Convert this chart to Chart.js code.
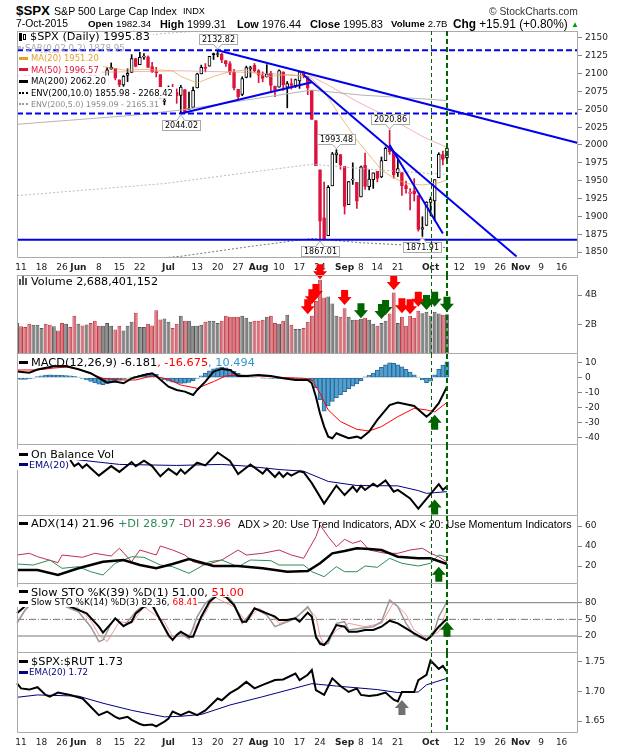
<!DOCTYPE html>
<html>
<head>
<meta charset="utf-8">
<title>$SPX S&amp;P 500 Large Cap Index</title>
<script src="https://cdn.jsdelivr.net/npm/chart.js@4.4.1/dist/chart.umd.min.js"></script>
<style>
  html, body { margin: 0; padding: 0; background: #fff; }
  #page { position: relative; width: 620px; height: 750px; overflow: hidden; font-family: 'DejaVu Sans', sans-serif; color: #000; }
  .pane { position: absolute; left: 0; z-index: 1; }
  .pane canvas { display: block; }
  .hd { position: absolute; height: 14px; display: flex; align-items: center; white-space: nowrap; font-family: 'Liberation Sans', Arial, sans-serif; z-index: 5; }
  .hd b { font-weight: bold; margin-right: 3px; }
  .row { position: absolute; left: 17px; display: flex; align-items: center; white-space: nowrap; z-index: 5; }
  .bg { background: #fff; }
  .ico { display: inline-block; flex: none; width: 9px; height: 3px; margin: 0 3px 0 2px; }
  .dots { height: 0; border-top: 2px dotted #000; }
  .t { display: inline-block; }
</style>
</head>
<body>
<div id="page">
  <!-- header -->
  <div class="hd" style="left:16px;top:3px"><span data-w="34" style="font-size:14px;font-weight:bold">$SPX</span></div>
  <div class="hd" style="left:54px;top:4px"><span data-w="123" style="font-size:11px">S&amp;P 500 Large Cap Index</span></div>
  <div class="hd" style="left:183px;top:4px"><span data-w="22" style="font-size:10px">INDX</span></div>
  <div class="hd" style="left:489px;top:4px"><span data-w="89" style="font-size:12px;color:#333">© StockCharts.com</span></div>
  <div class="hd" style="left:16px;top:16.5px"><span data-w="52" style="font-size:11px">7-Oct-2015</span></div>
  <div class="hd" style="left:88px;top:16.5px"><span data-w="63" style="font-size:11px"><b>Open</b>1982.34</span></div>
  <div class="hd" style="left:160px;top:16.5px"><span data-w="66" style="font-size:11px"><b>High</b>1999.31</span></div>
  <div class="hd" style="left:237px;top:16.5px"><span data-w="64" style="font-size:11px"><b>Low</b>1976.44</span></div>
  <div class="hd" style="left:310px;top:16.5px"><span data-w="73" style="font-size:11px"><b>Close</b>1995.83</span></div>
  <div class="hd" style="left:391px;top:16.5px"><span data-w="56" style="font-size:11px"><b>Volume</b>2.7B</span></div>
  <div class="hd" style="left:453px;top:16.5px"><span data-w="115" style="font-size:11px"><b>Chg</b>+15.91 (+0.80%)</span></div>
  <div class="hd" style="left:571px;top:17px"><span style="font-size:8px;color:#00a000">▲</span></div>

  <!-- price panel legend (white box is painted on the canvas under the trendlines) -->
  <div id="priceLegend">
    <div class="row" style="top:31px;height:11.5px"><span class="ico" style="width:3px;height:8px;background:#000;margin-right:1px"></span><span class="ico" style="width:3px;height:6px;border:1px solid #000;box-sizing:border-box;margin:0 4px 0 0"></span><span class="t" data-w="120" style="font-size:11px">$SPX (Daily) 1995.83</span></div>
    <div class="row" style="top:42.5px;height:10px"><span class="ico" style="width:3px;height:3px;background:#bbb;margin:0 1px 0 1px"></span><span class="ico" style="width:2px;height:2px;background:#bbb;margin:0 1px 0 0"></span><span class="t" data-w="100" style="font-size:9px;color:#aaa">SAR(0.02,0.2) 1878.95</span></div>
    <div class="row" style="top:52.5px;height:11.5px"><span class="ico" style="background:#e0a030"></span><span class="t" data-w="68" style="font-size:9px;color:#e0a030">MA(20) 1951.20</span></div>
    <div class="row" style="top:64px;height:11.5px"><span class="ico" style="background:#dc143c"></span><span class="t" data-w="68" style="font-size:9px;color:#dc143c">MA(50) 1996.57</span></div>
    <div class="row" style="top:75.5px;height:11.5px"><span class="ico" style="background:#000"></span><span class="t" data-w="75" style="font-size:9px">MA(200) 2062.20</span></div>
    <div class="row" style="top:87px;height:11.5px"><span class="ico dots"></span><span class="t" data-w="142" style="font-size:9px">ENV(200,10.0) 1855.98 - 2268.42</span></div>
    <div class="row" style="top:98.5px;height:11.5px"><span class="ico dots" style="border-color:#999"></span><span class="t" data-w="128" style="font-size:9px;color:#888">ENV(200,5.0) 1959.09 - 2165.31</span></div>
  </div>

  <!-- lower panel legends -->
  <div class="row" style="top:276px;height:11px"><span class="ico" style="width:2px;height:6px;background:#555;margin:0 1px 0 2px;align-self:flex-end;margin-bottom:2px"></span><span class="ico" style="width:2px;height:9px;background:#555;margin:0 1px 0 0;align-self:flex-end;margin-bottom:2px"></span><span class="ico" style="width:2px;height:7px;background:#555;margin:0 4px 0 0;align-self:flex-end;margin-bottom:2px"></span><span class="t" data-w="127" style="font-size:11px">Volume 2,688,401,152</span></div>
  <div class="row" style="top:356.5px;height:11px"><span class="ico" style="background:#000"></span><span class="t" data-w="224" style="font-size:11px">MACD(12,26,9) -6.181<span style="color:#f00">, -16.675</span><span style="color:#3399cc">, 10.494</span></span></div>
  <div class="row bg" style="top:449px;height:10.5px"><span class="ico" style="background:#000"></span><span class="t" data-w="83" style="font-size:10px">On Balance Vol</span></div>
  <div class="row bg" style="top:459.5px;height:10px"><span class="ico" style="background:#000080;margin-right:1px"></span><span class="t" data-w="40" style="font-size:9px;color:#000080">EMA(20)</span></div>
  <div class="row" style="top:518.5px;height:10px"><span class="ico" style="background:#000"></span><span class="t" data-w="200" style="font-size:10px">ADX(14) 21.96 <span style="color:#2e8b57">+DI 28.97</span> <span style="color:#b03050">-DI 23.96</span></span></div>
  <div class="hd" style="left:238px;top:517px"><span data-w="334" style="font-size:11px">ADX &gt; 20: Use Trend Indicators, ADX &lt; 20: Use Momentum Indicators</span></div>
  <div class="row bg" style="top:586.5px;height:10px"><span class="ico" style="background:#000"></span><span class="t" data-w="213" style="font-size:10px">Slow STO %K(39) %D(1) 51.00, <span style="color:#f00">51.00</span></span></div>
  <div class="row bg" style="top:597px;height:10px"><span class="ico" style="background:#000"></span><span class="t" data-w="167" style="font-size:9px">Slow STO %K(14) %D(3) 82.36, <span style="color:#f00">68.41</span></span></div>
  <div class="row" style="top:656px;height:10px"><span class="ico" style="background:#000"></span><span class="t" data-w="92" style="font-size:11px">$SPX:$RUT 1.73</span></div>
  <div class="row" style="top:667px;height:10px"><span class="ico" style="background:#000080;margin-right:1px"></span><span class="t" data-w="59" style="font-size:9px;color:#000080">EMA(20) 1.72</span></div>
</div>

<script>
// Trading days shown, then the empty weekdays the axis runs on to
const days = [
  '5/8','5/11','5/12','5/13','5/14','5/15','5/18','5/19','5/20','5/21','5/22',
  '5/26','5/27','5/28','5/29','6/1','6/2','6/3','6/4','6/5',
  '6/8','6/9','6/10','6/11','6/12','6/15','6/16','6/17','6/18','6/19',
  '6/22','6/23','6/24','6/25','6/26','6/29','6/30','7/1','7/2',
  '7/6','7/7','7/8','7/9','7/10','7/13','7/14','7/15','7/16','7/17',
  '7/20','7/21','7/22','7/23','7/24','7/27','7/28','7/29','7/30','7/31',
  '8/3','8/4','8/5','8/6','8/7','8/10','8/11','8/12','8/13','8/14',
  '8/17','8/18','8/19','8/20','8/21','8/24','8/25','8/26','8/27','8/28',
  '8/31','9/1','9/2','9/3','9/4','9/8','9/9','9/10','9/11',
  '9/14','9/15','9/16','9/17','9/18','9/21','9/22','9/23','9/24','9/25',
  '9/28','9/29','9/30','10/1','10/2','10/5','10/6','10/7',
  '10/8','10/9','10/12','10/13','10/14','10/15','10/16','10/19','10/20','10/21','10/22','10/23',
  '10/26','10/27','10/28','10/29','10/30','11/2','11/3','11/4','11/5','11/6',
  '11/9','11/10','11/11','11/12','11/13','11/16','11/17','11/18','11/19','11/20'
];

// Date axis labels
const tickDays = ['5/11','5/18','5/26','6/1','6/8','6/15','6/22','7/1','7/13','7/20','7/27','8/3','8/10','8/17','8/24','9/1','9/8','9/14','9/21','10/1','10/12','10/19','10/26','11/2','11/9','11/16'];
const tickText = ['11','18','26','Jun','8','15','22','Jul','13','20','27','Aug','10','17','24','Sep','8','14','21','Oct','12','19','26','Nov','9','16'];

// Daily candles
const open = [2092.13,2115.56,2102.87,2099.62,2100.43,2122.07,2121.30,2129.45,2127.79,2125.55,
  2130.36,2125.34,2105.13,2122.27,2120.66,2108.64,2110.41,2110.64,2112.35,2095.09,
  2092.34,2079.07,2081.12,2106.24,2107.43,2091.34,2084.26,2097.40,2101.58,2121.06,
  2112.50,2123.16,2123.65,2109.96,2102.62,2098.63,2061.19,2067.00,2078.03,2073.95,
  2069.52,2077.66,2049.73,2052.74,2080.03,2099.72,2109.21,2110.55,2126.80,2126.85,
  2127.55,2118.21,2114.16,2102.24,2078.19,2070.75,2094.70,2106.78,2111.60,2104.49,
  2097.68,2095.27,2100.75,2082.61,2080.98,2102.66,2081.10,2086.19,2083.15,2089.70,
  2101.99,2095.69,2076.61,2034.08,1965.15,1898.08,1872.75,1942.77,1986.06,1986.73,
  1970.09,1916.52,1950.79,1947.76,1927.30,1971.45,1941.59,1951.45,1963.06,1955.10,
  1978.02,1995.33,1989.66,1960.84,1961.39,1943.24,1932.24,1935.93,1929.18,1881.90,
  1887.14,1919.65,1921.77,1954.33,1986.63,1982.34];
const high = [2117.66,2117.69,2105.06,2110.19,2121.45,2123.89,2131.78,2133.02,2134.72,2131.42,
  2132.15,2125.34,2126.22,2122.27,2120.66,2119.15,2117.59,2121.92,2112.89,2100.99,
  2093.01,2085.62,2108.50,2115.02,2107.43,2091.34,2097.40,2106.79,2126.65,2121.64,
  2129.87,2128.03,2125.10,2116.04,2108.92,2098.63,2074.28,2082.78,2085.06,2078.61,
  2083.74,2077.66,2074.28,2081.31,2100.67,2111.98,2114.14,2124.42,2128.91,2132.82,
  2128.49,2118.51,2116.87,2106.01,2078.19,2095.60,2110.60,2110.48,2114.24,2105.70,
  2102.51,2112.66,2103.32,2082.61,2105.35,2102.66,2089.06,2092.93,2092.45,2102.87,
  2103.47,2096.17,2076.61,2034.08,1965.15,1948.04,1943.09,1989.60,1993.48,1986.73,
  1970.09,1948.91,1975.01,1947.76,1970.42,1988.63,1965.29,1961.05,1963.06,1983.19,
  1997.26,2020.86,1989.66,1979.64,1961.39,1949.52,1938.88,1952.89,1929.18,1899.48,
  1920.53,1927.21,1951.36,1989.17,1991.62,1999.31];
const low = [2092.13,2104.58,2085.57,2096.04,2100.43,2116.81,2120.01,2124.50,2122.59,2120.74,
  2126.06,2099.18,2105.13,2112.86,2104.89,2102.54,2099.14,2110.64,2093.23,2085.67,
  2079.11,2072.14,2081.12,2106.24,2091.33,2072.49,2082.10,2088.86,2101.58,2109.45,
  2112.50,2119.89,2108.58,2101.78,2095.38,2056.64,2056.32,2067.00,2071.02,2058.40,
  2044.02,2044.66,2049.73,2052.74,2080.03,2099.72,2102.49,2110.55,2119.88,2123.66,
  2115.40,2110.00,2098.63,2077.09,2063.52,2069.09,2094.08,2094.97,2102.07,2087.31,
  2088.60,2095.27,2075.53,2067.91,2080.98,2076.49,2052.09,2078.26,2080.61,2079.30,
  2094.14,2070.53,2035.73,1970.89,1867.01,1867.08,1872.75,1942.77,1975.19,1965.98,
  1903.07,1916.52,1944.72,1911.21,1927.30,1937.88,1937.19,1939.19,1948.27,1954.30,
  1977.93,1986.73,1953.45,1955.80,1929.22,1932.57,1908.92,1921.50,1879.21,1871.91,
  1887.14,1900.70,1893.70,1954.33,1971.99,1976.44];
const close = [2116.10,2105.33,2099.12,2098.48,2121.10,2122.73,2129.20,2127.83,2125.85,2130.82,
  2126.06,2104.20,2123.48,2120.79,2107.39,2111.73,2109.60,2114.07,2095.84,2092.83,
  2079.28,2080.15,2105.20,2108.86,2094.11,2084.43,2096.29,2100.44,2121.24,2109.99,
  2122.85,2124.20,2108.58,2102.31,2101.49,2057.64,2063.11,2077.42,2076.78,2068.76,
  2081.34,2046.68,2051.31,2076.62,2099.60,2108.95,2107.40,2124.29,2126.64,2128.28,
  2119.21,2114.15,2102.15,2079.65,2067.64,2093.25,2108.57,2108.63,2103.84,2098.04,
  2093.32,2099.84,2083.56,2077.57,2104.18,2084.07,2086.05,2083.39,2091.54,2102.44,
  2096.92,2079.61,2035.73,1970.89,1893.21,1867.61,1940.51,1987.66,1988.87,1972.18,
  1913.85,1948.86,1951.13,1921.22,1969.41,1942.04,1952.29,1961.05,1953.03,1978.09,
  1995.31,1990.20,1958.03,1966.97,1942.74,1938.76,1932.24,1931.34,1881.77,1884.09,
  1920.03,1923.82,1951.36,1987.05,1979.92,1995.83];

// Overlays: [day, value]
const ma20 = [['6/9',2110],['6/16',2105],['6/24',2106],['7/2',2104],['7/7',2096],['7/13',2087],['7/17',2096],['7/23',2103],['7/29',2105],['8/5',2096],['8/11',2098],['8/18',2097],['8/20',2093],['8/25',2075],['8/31',2040],['9/4',2007],['9/11',1979],['9/15',1965],['9/18',1954],['9/23',1946],['9/29',1944],['10/5',1947],['10/7',1951.2]];
const ma50 = [['6/8',2102],['7/7',2104],['7/28',2102],['8/14',2098],['8/20',2096],['8/26',2084],['9/4',2061],['9/17',2038],['9/29',2012],['10/7',1996.57]];
const ma200 = [['5/8',2029],['6/17',2041],['7/7',2049],['7/29',2063],['8/20',2077],['9/8',2070],['10/1',2064],['10/7',2062.2]];
const env5Up = [['5/8',2131],['6/8',2146],['6/29',2156],['7/14',2160],['7/29',2168],['8/20',2181],['10/7',2165.31]];
const env5Lo = [['5/8',1929],['6/30',1946],['8/20',1973],['9/10',1966],['10/1',1960],['10/7',1959.09]];
const env10Lo = [['5/8',1826],['6/17',1838],['7/7',1844],['7/29',1857],['8/20',1869],['9/8',1863],['10/1',1858],['10/7',1855.98]];

// Drawn trendlines and levels
const trendLines = [
  [['7/20',2132.82],['11/20',2002.8]],
  [['7/7',2044.02],['8/20',2088]],
  [['8/18',2098],['10/30',1843.8]],
  [['9/17',2000],['10/6',1876]]
];
const dashedLevels = [2132.82, 2044.02];
const solidLevels = [1867.01];
// Price callouts: [day, price, side]
const callouts = [['7/20',2132.82,'above'],['7/7',2044.02,'below'],['8/28',1993.48,'above'],['9/17',2020.86,'above'],['8/24',1867.01,'below'],['9/29',1871.91,'below']];
const markerDays = ['10/1','10/7'];

// Volume, billions of shares
const volume = [2.11,1.89,1.84,2.05,1.98,1.98,1.77,2.05,1.98,1.89,
  1.59,2.11,2.05,1.84,2.60,2.05,1.93,2.00,2.11,2.25,
  1.91,1.91,2.11,1.91,1.66,1.91,1.59,1.91,2.18,2.80,
  1.84,1.84,2.05,1.93,2.97,2.34,2.41,2.18,1.77,2.05,
  2.60,2.25,2.25,1.91,1.91,1.98,2.18,2.25,2.25,2.11,
  2.25,2.60,2.53,2.53,2.53,2.60,2.46,2.18,2.25,2.25,
  2.32,2.53,2.60,2.11,2.05,2.25,2.67,1.98,1.70,1.70,
  1.77,2.18,2.60,3.60,5.03,3.84,3.90,3.43,2.60,2.53,
  3.10,2.53,2.32,2.32,2.39,2.46,2.32,2.05,1.91,2.11,
  2.25,2.74,4.18,2.11,2.53,1.91,2.60,2.46,2.94,2.76,
  2.87,2.60,2.87,2.74,2.67,2.69];
const volRedArrows = [['8/19',2.69],['8/20',3.37],['8/21',3.73],['8/24',5.08],['9/1',3.32],['9/18',4.34],['9/22',2.76],['9/24',2.69],['9/28',3.21]];
const volGreenArrows = [['9/8',2.42],['9/15',2.37],['9/16',2.64],['9/30',2.98],['10/2',3.21],['10/7',2.87]];

// MACD(12,26,9)
const macdLine = [['5/8',4.0],['5/13',3.3],['5/15',5.4],['5/21',7.6],['5/27',7.8],['6/1',5.6],['6/4',2.9],['6/10',-3.4],['6/12',-2.7],['6/16',-3.8],['6/18',-0.5],['6/23',1.7],['6/25',2.9],['6/26',1.1],['7/1',-6.1],['7/6',-8.3],['7/8',-9.4],['7/10',-11.7],['7/13',-8.3],['7/15',-2.7],['7/17',4.0],['7/21',5.8],['7/23',5.1],['7/27',1.1],['7/29',1.1],['8/3',1.7],['8/6',1.1],['8/11',-0.5],['8/14',-1.6],['8/19',-1.6],['8/20',-3.8],['8/21',-12.8],['8/24',-24],['8/25',-32.9],['8/26',-39.6],['8/27',-40.7],['8/28',-37.3],['8/31',-38.5],['9/2',-40.7],['9/4',-39.6],['9/8',-40.7],['9/10',-36.2],['9/14',-28.4],['9/17',-18.4],['9/21',-16.8],['9/25',-19],['9/30',-26.2],['10/1',-24],['10/5',-17.2],['10/7',-6.181]];
const macdSignal = [['5/8',5.1],['5/15',5.1],['5/21',6.4],['5/27',7.0],['6/1',5.6],['6/9',-0.5],['6/15',-1.6],['6/19',-1.6],['6/25',1.1],['7/1',-1.1],['7/7',-5],['7/13',-7.2],['7/17',-2.7],['7/22',1.1],['7/27',1.7],['8/3',1.1],['8/10',0.2],['8/18',-0.5],['8/20',-1.6],['8/24',-10.5],['8/26',-21.7],['8/31',-29.5],['9/4',-34.7],['9/10',-35.8],['9/15',-32.9],['9/21',-26.2],['9/25',-20.6],['9/30',-21.7],['10/2',-23],['10/7',-16.675]];
const macdHist = [-1.0,-1.3,-1.2,-0.8,-0.3,
  0.6,1.2,1.6,1.8,1.7,1.6,
  1.5,1.3,1.2,0.8,0.3,
  -0.5,-1.5,-2.6,-3.6,-4.4,-4.8,-4.0,
  -3.0,-2.3,-1.6,-1.0,-0.4,0.2,
  0.9,1.6,2.2,2.8,2.9,2.2,
  -0.2,-1.5,-2.4,-3.0,-3.6,-3.9,-3.7,-3.2,-2.0,-0.6,
  1.2,3.0,4.6,5.8,6.6,6.9,6.6,5.6,4.2,
  2.8,1.6,1.0,0.6,0.2,0.0,
  -0.2,-0.4,-0.5,-0.6,-0.7,-0.8,-0.8,-0.8,-0.7,-0.6,-0.8,-1.2,
  -2.5,-7.0,-15.0,-22.5,-19.0,-16.0,-13.5,-11.5,-9.5,-7.5,-5.8,-4.2,-2.2,
  0.5,1.5,3.0,5.0,6.8,8.5,9.8,9.5,8.6,7.2,5.5,3.6,1.8,0.3,
  -1.6,-3.4,-2.4,1.8,5.6,8.4,10.494];
const macdArrows = [['10/2',-25]];

// On balance volume (billions, relative level) and its EMA(20)
const obv = [['5/28',32.9],['5/29',29.3],['6/1',30.9],['6/2',28.3],['6/3',30.3],['6/8',23.7],['6/11',29.3],['6/15',25.9],['6/18',31.7],['6/19',29.3],['6/23',32.5],['6/25',29.3],['6/29',23.3],['7/1',27.7],['7/6',24.3],['7/7',27.3],['7/8',24.9],['7/13',31.3],['7/15',29.7],['7/20',37.3],['7/23',32.3],['7/27',24.7],['7/30',30.3],['8/4',24.9],['8/5',27.7],['8/7',22.9],['8/10',25.7],['8/11',22.9],['8/12',25.3],['8/13',23.7],['8/17',26.3],['8/18',25.7],['8/20',19.3],['8/25',7.3],['8/28',17.9],['9/1',12.3],['9/3',17.3],['9/4',14.3],['9/8',17.7],['9/9',15.3],['9/11',18.9],['9/14',17.3],['9/16',20.9],['9/18',14.3],['9/21',15.3],['9/24',10.3],['9/28',4.3],['10/5',18.7],['10/6',15.3],['10/7',17.5]];
const obvEma = [['5/28',33.5],['6/15',30.3],['7/6',29.7],['7/21',30.3],['7/29',29.3],['8/10',27.3],['8/18',26.3],['8/26',20.3],['9/4',17.9],['9/21',17.7],['9/28',14.9],['9/30',13.3],['10/2',13.7],['10/7',14.3]];
const obvArrows = [['10/2',9.7]];

// ADX(14), +DI, -DI
const adx = [['5/8',16],['5/15',16],['5/22',11],['6/1',17.7],['6/9',24.3],['6/16',26],['6/22',21],['6/26',17.7],['7/2',22],['7/9',27],['7/17',20],['7/27',20],['8/4',17.7],['8/12',14.3],['8/19',15],['8/24',22.7],['8/27',32.7],['9/1',35],['9/4',37.7],['9/10',37],['9/15',36],['9/21',29.3],['9/28',27.7],['10/1',27.7],['10/7',21.96]];
const plusDI = [['5/8',22],['5/14',21],['5/20',26],['5/26',17.7],['6/1',19.3],['6/4',14.3],['6/9',11],['6/12',22.7],['6/18',29.3],['6/23',28.7],['6/29',21],['7/2',19.3],['7/9',12.7],['7/16',24.3],['7/21',26],['7/27',19.3],['7/30',26],['8/6',25.3],['8/10',21],['8/18',21],['8/20',14.3],['8/25',9.3],['8/28',19.3],['9/1',14.3],['9/4',14.3],['9/9',20],['9/14',18.7],['9/17',27.7],['9/22',22.7],['9/28',20],['10/1',22.7],['10/5',31],['10/7',28.97]];
const minusDI = [['5/8',31],['5/13',32.7],['5/15',29.3],['5/22',23.3],['5/26',31],['6/2',28.7],['6/5',32.7],['6/11',30],['6/15',37.7],['6/18',24.3],['6/22',36],['6/26',31],['6/29',40],['7/2',36],['7/8',31],['7/10',24.3],['7/15',21],['7/21',26],['7/27',36],['7/29',31],['8/4',32.7],['8/10',36],['8/13',31],['8/18',27.7],['8/21',49.3],['8/24',61],['8/26',49.3],['8/28',39.3],['9/1',46.7],['9/3',42.7],['9/8',45.3],['9/10',36],['9/16',32.7],['9/21',32.7],['9/24',36],['9/29',37.7],['10/1',32.7],['10/5',29.3],['10/7',23.96]];
const adxArrows = [['10/5',19.3]];

// Slow stochastics
const sto39 = [['5/8',60.8],['5/12',74],['5/15',86],['5/21',90],['5/28',72.8],['6/3',60.8],['6/8',36.8],['6/9',26],['6/11',42.8],['6/12',51.8],['6/16',38],['6/18',45.8],['6/19',60.8],['6/23',72.8],['6/25',75.8],['6/29',48.8],['7/1',21.8],['7/2',12.8],['7/6',21.8],['7/7',27.8],['7/9',18.8],['7/10',18.8],['7/14',54.8],['7/16',81.8],['7/20',93.8],['7/22',90.8],['7/24',75.8],['7/28',45.8],['7/29',45.8],['7/31',69.8],['8/5',60.8],['8/7',54.8],['8/10',48.8],['8/12',48.8],['8/14',51.8],['8/17',45.8],['8/19',62],['8/20',54.8],['8/21',18.8],['8/24',6],['8/25',3.8],['8/26',12.8],['8/28',39.8],['9/1',36.8],['9/2',27.8],['9/4',27.8],['9/9',30.8],['9/11',30.8],['9/15',36.8],['9/17',47.6],['9/21',42.8],['9/23',33.8],['9/25',24.8],['9/30',12.8],['10/1',18.8],['10/5',36.8],['10/7',51]];
const sto14K = [['5/8',42.8],['5/12',66.8],['5/15',88],['5/21',86],['5/27',72.8],['6/1',63.8],['6/4',36.8],['6/8',9.8],['6/9',12.8],['6/11',42.8],['6/12',51.8],['6/16',36.8],['6/19',63.8],['6/23',75.8],['6/25',80],['6/29',48.8],['7/1',18.8],['7/2',14],['7/6',21.8],['7/7',24.8],['7/9',15],['7/13',54.8],['7/15',78.8],['7/20',97],['7/22',95],['7/24',78.8],['7/28',42.8],['7/31',69.8],['8/5',57.8],['8/7',36.8],['8/12',45.8],['8/14',51.8],['8/19',72.8],['8/20',60.8],['8/21',15.8],['8/25',3.8],['8/26',6.8],['8/28',42.8],['9/1',45.8],['9/2',30.8],['9/8',33.8],['9/11',36.8],['9/15',45.8],['9/17',84.8],['9/21',72.8],['9/23',42.8],['9/25',21.8],['9/30',12.8],['10/2',30.8],['10/5',55],['10/6',68],['10/7',82.36]];
const sto14D = [['5/8',45.8],['5/13',78.8],['5/27',78],['6/1',70],['6/4',48],['6/8',22],['6/10',9.8],['6/15',45.8],['6/18',42.8],['6/23',72.8],['6/30',45.8],['7/2',18.8],['7/9',21.8],['7/15',60.8],['7/17',90.8],['7/24',72.8],['7/29',45.8],['8/3',69.8],['8/6',57.8],['8/10',42.8],['8/13',48.8],['8/19',69.8],['8/21',54.8],['8/24',20],['8/25',3.8],['8/28',30.8],['9/2',42.8],['9/9',36.8],['9/15',42.8],['9/18',80.8],['9/23',58.8],['9/25',30.8],['9/30',15.8],['10/5',27.8],['10/7',68.41]];
const stoLevels = [80, 20];
const stoMid = 50;
const stoArrows = [['10/7',45.7]];

// $SPX:$RUT ratio and its EMA(20)
const ratio = [['5/8',1.7135],['5/11',1.705],['5/13',1.703],['5/15',1.707],['5/19',1.694],['5/20',1.691],['5/22',1.698],['5/28',1.694],['6/2',1.688],['6/4',1.674],['6/8',1.660],['6/10',1.666],['6/12',1.657],['6/15',1.654],['6/17',1.657],['6/18',1.652],['6/22',1.645],['6/23',1.643],['6/25',1.644],['6/26',1.641],['6/30',1.649],['7/1',1.654],['7/2',1.666],['7/7',1.660],['7/9',1.666],['7/13',1.660],['7/15',1.668],['7/20',1.688],['7/21',1.685],['7/23',1.697],['7/27',1.705],['7/29',1.716],['7/31',1.705],['8/4',1.711],['8/7',1.719],['8/11',1.720],['8/14',1.730],['8/17',1.719],['8/19',1.728],['8/20',1.736],['8/21',1.702],['8/25',1.694],['8/27',1.722],['8/31',1.709],['9/2',1.699],['9/4',1.705],['9/8',1.694],['9/10',1.692],['9/14',1.694],['9/16',1.698],['9/18',1.686],['9/21',1.683],['9/22',1.699],['9/25',1.699],['9/28',1.719],['9/30',1.728],['10/1',1.752],['10/2',1.745],['10/5',1.738],['10/6',1.743],['10/7',1.733]];
const ratioEma = [['5/8',1.690],['5/15',1.694],['6/1',1.692],['6/9',1.680],['6/18',1.668],['6/30',1.657],['7/7',1.658],['7/14',1.661],['7/23',1.677],['8/4',1.691],['8/20',1.713],['8/28',1.709],['9/14',1.703],['9/21',1.698],['9/28',1.699],['9/30',1.711],['10/7',1.722]];
const ratioArrows = [['9/22',1.6855]];

// Right-hand axis ticks
const priceTicks = [1850,1875,1900,1925,1950,1975,2000,2025,2050,2075,2100,2125,2150];
const volTicks = [2, 4];
const macdTicks = [10, 0, -10, -20, -30, -40];
const adxTicks = [20, 40, 60];
const stoTicks = [20, 50, 80];
const ratioTicks = [1.65, 1.70, 1.75];

// ---------------------------------------------------------------------------

// Squeeze each legend text to the width it has in the original
document.querySelectorAll('[data-w]').forEach(function (el) {
  const want = +el.dataset.w;
  const size = parseFloat(getComputedStyle(el).fontSize);
  const got = el.getBoundingClientRect().width;
  if (got > 0) el.style.fontSize = (size * want / got).toFixed(2) + 'px';
});

const page = document.getElementById('page');
const pts = list => list.map(([d, v]) => ({ x: d, y: v }));
const upDay = i => i === 0 || close[i] >= close[i - 1];
const RED = '#dc143c';

function line(label, list, color, width, extra) {
  return Object.assign({
    type: 'line', label: label, data: pts(list), borderColor: color, borderWidth: width,
    pointRadius: 0, tension: 0, fill: false
  }, extra || {});
}

function level(value, color, width, extra) {
  return line('level', [[days[0], value], [days[days.length - 1], value]], color, width, extra);
}

// Signal arrow with its tip on (x, y)
function drawArrow(ctx, x, y, dir, color) {
  const s = dir === 'down' ? -1 : 1;
  ctx.fillStyle = color;
  ctx.beginPath();
  ctx.moveTo(x, y);
  ctx.lineTo(x - 7, y + s * 8);
  ctx.lineTo(x - 3.5, y + s * 8);
  ctx.lineTo(x - 3.5, y + s * 15);
  ctx.lineTo(x + 3.5, y + s * 15);
  ctx.lineTo(x + 3.5, y + s * 8);
  ctx.lineTo(x + 7, y + s * 8);
  ctx.closePath();
  ctx.fill();
}

// Frame, markers, arrows, callouts and the legend mask for one panel
function deco(cfg) {
  return {
    id: 'deco',
    afterDatasetDraw(chart, args) {
      if (!cfg.mask || chart.data.datasets[args.index].label !== 'MA(20)') return;
      const ctx = chart.ctx, c = chart.canvas.getBoundingClientRect();
      ctx.save();
      ctx.fillStyle = '#fff';
      document.querySelectorAll(cfg.mask).forEach(function (el) {
        const r = el.getBoundingClientRect();
        ctx.fillRect(r.left - c.left, r.top - c.top, r.width + 3, r.height);
      });
      ctx.restore();
    },
    afterDraw(chart) {
      const ctx = chart.ctx, a = chart.chartArea, x = chart.scales.x, y = chart.scales.y;
      ctx.save();

      (cfg.callouts || []).forEach(function ([d, v, side]) {
        const px = x.getPixelForValue(days.indexOf(d)), py = y.getPixelForValue(v);
        const text = v.toFixed(2);
        ctx.font = '8px "DejaVu Sans"';
        const w = Math.round(ctx.measureText(text).width + 5), h = 10;
        const bx = Math.round(px - w / 2) + 0.5;
        const by = side === 'above' ? Math.round(py - 6 - h) + 0.5 : Math.round(py + 6) + 0.5;
        const edge = side === 'above' ? by + h : by;
        ctx.fillStyle = '#fff';
        ctx.strokeStyle = '#aaa';
        ctx.lineWidth = 1;
        ctx.fillRect(bx, by, w, h);
        ctx.strokeRect(bx, by, w, h);
        ctx.beginPath();
        ctx.moveTo(px - 4, edge);
        ctx.lineTo(px, side === 'above' ? py - 1 : py + 1);
        ctx.lineTo(px + 4, edge);
        ctx.fill();
        ctx.stroke();
        ctx.fillRect(px - 3.5, edge - 0.5, 7, 1);
        ctx.fillStyle = '#000';
        ctx.textAlign = 'center';
        ctx.textBaseline = 'middle';
        ctx.fillText(text, bx + w / 2, by + h / 2 + 0.5);
      });

      (cfg.arrows || []).forEach(function ([list, dir, color]) {
        list.forEach(function ([d, v]) {
          drawArrow(ctx, x.getPixelForValue(days.indexOf(d)), y.getPixelForValue(v), dir, color);
        });
      });

      // panel frame
      ctx.strokeStyle = '#aaa';
      ctx.lineWidth = 1;
      ctx.beginPath();
      ctx.moveTo(a.left + 0.5, a.top);
      ctx.lineTo(a.left + 0.5, a.bottom - 0.5);
      ctx.lineTo(a.right - 0.5, a.bottom - 0.5);
      ctx.lineTo(a.right - 0.5, a.top);
      if (cfg.frameTop) {
        ctx.moveTo(a.left, a.top + 0.5);
        ctx.lineTo(a.right, a.top + 0.5);
      }
      ctx.stroke();

      // green dashed markers across every panel
      ctx.strokeStyle = '#006400';
      markerDays.forEach(function (d, k) {
        const px = x.getPixelForValue(days.indexOf(d));
        ctx.lineWidth = k === 0 ? 1 : 2;
        ctx.setLineDash(k === 0 ? [4, 3] : [5, 3]);
        const xx = k === 0 ? Math.round(px) + 0.5 : Math.round(px);
        ctx.beginPath();
        ctx.moveTo(xx, a.top);
        ctx.lineTo(xx, cfg.markersDown ? chart.height : a.bottom);
        ctx.stroke();
      });
      ctx.restore();
    }
  };
}

function makePanel(cfg) {
  const wrap = document.createElement('div');
  wrap.className = 'pane';
  wrap.style.top = cfg.top + 'px';
  const canvas = document.createElement('canvas');
  canvas.width = 620;
  canvas.height = cfg.height;
  canvas.style.width = '620px';
  canvas.style.height = cfg.height + 'px';
  wrap.appendChild(canvas);
  page.appendChild(wrap);

  const fmt = cfg.fmt || (v => String(v));
  return new Chart(canvas, {
    type: 'bar',
    data: { labels: days, datasets: cfg.datasets },
    options: {
      responsive: false,
      animation: false,
      events: [],
      layout: { padding: { left: 17, right: 0, top: cfg.padTop || 0, bottom: 0 } },
      plugins: { legend: { display: false }, tooltip: { enabled: false } },
      scales: {
        x: {
          type: 'category',
          offset: false,
          display: !!cfg.xAxis,
          grid: { display: false, drawTicks: false },
          border: { display: false },
          ticks: {
            autoSkip: false,
            maxRotation: 0,
            padding: 4,
            color: '#222',
            callback: function (value, index) {
              const k = tickDays.indexOf(days[index]);
              return k < 0 ? null : tickText[k];
            },
            font: function (c) {
              const lab = c.tick ? String(c.tick.label) : '';
              return { family: 'DejaVu Sans', size: 9, weight: isNaN(+lab) ? 'bold' : 'normal' };
            }
          },
          afterFit: function (s) {
            s.height = cfg.xAxis ? 17 : 0;
            s.paddingLeft = 0;
            s.paddingRight = 0;
          }
        },
        y: {
          position: 'right',
          min: cfg.min,
          max: cfg.max,
          grid: { display: true, drawOnChartArea: false, drawTicks: true, tickLength: 4, color: '#888' },
          border: { display: false },
          ticks: { padding: 3, color: '#222', font: { family: 'DejaVu Sans', size: 9 }, callback: fmt },
          afterBuildTicks: function (s) { s.ticks = (cfg.ticks || []).map(v => ({ value: v })); },
          afterFit: function (s) { s.width = 42; s.paddingTop = 0; s.paddingBottom = 0; }
        }
      }
    },
    plugins: [deco(cfg)]
  });
}

// Price panel
const n = close.length;
const candleLine = days.map((d, i) => i < n ? (upDay(i) ? '#000' : RED) : null);
makePanel({
  top: 31, height: 244, min: 1841.6, max: 2159.8, ticks: priceTicks, xAxis: true,
  frameTop: true, markersDown: true, mask: '#priceLegend .row', callouts: callouts,
  datasets: [
    ...trendLines.map(seg => line('trend', seg, '#0000ee', 2, { order: 1 })),
    ...dashedLevels.map(v => level(v, '#0000ee', 2, { borderDash: [6, 3], order: 2 })),
    ...solidLevels.map(v => level(v, '#0000ee', 2, { order: 2 })),
    line('MA(20)', ma20, 'rgba(228,170,80,0.75)', 1, { order: 13 }),
    line('MA(50)', ma50, 'rgba(232,130,140,0.6)', 1, { order: 14 }),
    line('MA(200)', ma200, '#b4b4b4', 1, { order: 15 }),
    line('ENV5 up', env5Up, '#bbb', 1, { borderDash: [2, 2], order: 16 }),
    line('ENV5 lo', env5Lo, '#bbb', 1, { borderDash: [2, 2], order: 17 }),
    line('ENV10 lo', env10Lo, '#777', 1, { borderDash: [2, 2], order: 18 }),
    {
      label: 'body', order: 19, grouped: false, barThickness: 3, minBarLength: 1,
      borderWidth: 1, borderSkipped: false,
      data: days.map((d, i) => i < n ? [open[i], close[i]] : null),
      borderColor: candleLine,
      backgroundColor: days.map((d, i) => i < n ? (close[i] >= open[i] ? '#fff' : candleLine[i]) : null)
    },
    {
      label: 'wick', order: 20, grouped: false, barThickness: 1, borderWidth: 0,
      data: days.map((d, i) => i < n ? [low[i], high[i]] : null),
      backgroundColor: candleLine
    }
  ]
});

// Volume panel
makePanel({
  top: 258, height: 96, padTop: 17, min: 0, max: 5.36, ticks: volTicks, fmt: v => v + 'B', frameTop: true,
  arrows: [[volRedArrows, 'down', '#ff0000'], [volGreenArrows, 'down', '#006400']],
  datasets: [{
    label: 'Volume', data: volume, barPercentage: 0.94, categoryPercentage: 1, borderWidth: 1, borderSkipped: false,
    backgroundColor: volume.map((v, i) => upDay(i) ? '#848484' : '#d6727b'),
    borderColor: volume.map((v, i) => upDay(i) ? '#555' : '#c23a46')
  }]
});

// MACD panel
makePanel({
  top: 354, height: 91, min: -45.2, max: 15.8, ticks: macdTicks,
  arrows: [[macdArrows, 'up', '#006400']],
  datasets: [
    line('MACD', macdLine, '#000', 2, { order: 1 }),
    line('Signal', macdSignal, '#ff0000', 1, { order: 2 }),
    {
      label: 'Hist', order: 3, data: macdHist, barPercentage: 1, categoryPercentage: 1,
      borderWidth: 1, borderSkipped: false, backgroundColor: '#52a0d2', borderColor: '#2a6a96'
    }
  ]
});

// On Balance Volume panel
makePanel({
  top: 445, height: 71, min: 0, max: 41.7, ticks: [],
  arrows: [[obvArrows, 'up', '#006400']],
  datasets: [
    line('OBV', obv, '#000', 2, { order: 1 }),
    line('EMA', obvEma, '#000080', 1, { order: 2 })
  ]
});

// ADX panel
makePanel({
  top: 516, height: 68, min: 2, max: 70, ticks: adxTicks,
  arrows: [[adxArrows, 'up', '#006400']],
  datasets: [
    line('ADX', adx, '#000', 2.5, { order: 1 }),
    line('+DI', plusDI, '#2e8b57', 1, { order: 2 }),
    line('-DI', minusDI, '#c03050', 1, { order: 3 })
  ]
});

// Slow stochastics panel
makePanel({
  top: 584, height: 69, min: -10.6, max: 113.7, ticks: stoTicks,
  arrows: [[stoArrows, 'up', '#006400']],
  datasets: [
    line('K39', sto39, '#000', 2, { order: 1 }),
    line('K14', sto14K, '#9a9a9a', 1.5, { order: 2 }),
    line('D3', sto14D, 'rgba(240,120,120,0.75)', 1, { order: 3 }),
    ...stoLevels.map(v => level(v, '#777', 1, { order: 5 })),
    level(stoMid, '#777', 1, { borderDash: [7, 2, 1, 2], order: 5 })
  ]
});

// $SPX:$RUT panel
makePanel({
  top: 653, height: 97, min: 1.6298, max: 1.7647, ticks: ratioTicks, fmt: v => v.toFixed(2), xAxis: true,
  arrows: [[ratioArrows, 'up', '#707070']],
  datasets: [
    line('Ratio', ratio, '#000', 2, { order: 1 }),
    line('EMA', ratioEma, '#000080', 1, { order: 2 })
  ]
});
</script>
</body>
</html>
